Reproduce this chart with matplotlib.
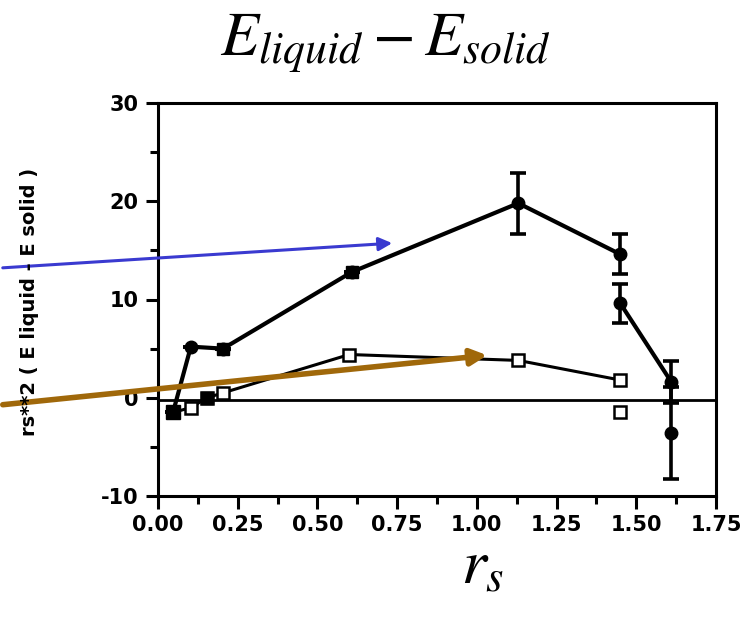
import matplotlib
matplotlib.use("Agg")
import matplotlib.pyplot as plt
from matplotlib.patches import FancyArrowPatch

plt.rcParams['mathtext.fontset'] = 'stix'
plt.rcParams['font.family'] = ['DejaVu Sans']

# ---- data ----
upper_x = [0.047, 0.103, 0.204, 0.608, 1.13, 1.45]
upper_y = [-1.5, 5.2, 5.0, 12.8, 19.8, 14.6]
upper_err = [0, 0, 0, 0, 3.1, 2.05]

branch_x = [1.45, 1.61]
branch_y = [9.6, 1.6]
branch_err = [2.0, 2.1]

iso_x = [1.61]
iso_y = [-3.6]
iso_err = [4.7]

lower_x = [0.047, 0.103, 0.154, 0.204, 0.60, 1.13, 1.45]
lower_y = [-1.5, -1.0, 0.0, 0.5, 4.4, 3.8, 1.8]

lower_iso_x = [1.45]
lower_iso_y = [-1.4]

x_ticks = [0.00, 0.25, 0.50, 0.75, 1.00, 1.25, 1.50, 1.75]
y_ticks = [-10, 0, 10, 20, 30]

W, H = 744, 625
fig = plt.figure(figsize=(W / 100, H / 100), dpi=100)
ax = fig.add_axes([158 / W, 1 - 496 / H, (716 - 158) / W, (496 - 103) / H])

ax.set_xlim(0, 1.75)
ax.set_ylim(-10, 30)

# zero line
ax.axhline(-0.2, color='black', lw=2.0, zorder=1)

# lower series
ax.plot(lower_x, lower_y, color='black', lw=2.2, zorder=2)
ax.plot(lower_x[1:], lower_y[1:], ls='none', marker='s', ms=8.5,
        mfc='white', mec='black', mew=1.8, zorder=4)
ax.plot(lower_x[2:3], lower_y[2:3], ls='none', marker='s', ms=8.5,
        mfc='black', mec='black', zorder=5)
ax.plot(lower_iso_x, lower_iso_y, ls='none', marker='s', ms=8.5,
        mfc='white', mec='black', mew=1.8, zorder=4)

# upper series
ax.errorbar(upper_x, upper_y, yerr=upper_err, color='black', lw=3.0,
            elinewidth=2.6, capsize=6, capthick=2.6, marker='o', ms=9,
            zorder=3)
ax.plot(upper_x[:1], upper_y[:1], ls='none', marker='s', ms=10,
        mfc='black', mec='black', zorder=6)
ax.plot(upper_x[2:4], upper_y[2:4], ls='none', marker='s', ms=9,
        mfc='black', mec='black', zorder=6)
ax.errorbar(branch_x, branch_y, yerr=branch_err, color='black', lw=3.0,
            elinewidth=2.6, capsize=6, capthick=2.6, marker='o', ms=9,
            zorder=3)
ax.errorbar(iso_x, iso_y, yerr=iso_err, color='black', ls='none',
            elinewidth=2.6, capsize=6, capthick=2.6, marker='o', ms=9,
            zorder=3)

# axes styling
for s in ax.spines.values():
    s.set_linewidth(2.2)
ax.set_xticks(x_ticks)
ax.set_xticklabels([f"{v:.2f}" for v in x_ticks])
ax.set_xticks([v + 0.125 for v in x_ticks[:-1]], minor=True)
ax.set_yticks(y_ticks)
ax.set_yticklabels([str(v) for v in y_ticks])
ax.set_yticks([-5, 5, 15, 25], minor=True)
ax.tick_params(axis='both', which='major', direction='out', length=9,
               width=2.2, labelsize=15, pad=5)
ax.tick_params(axis='both', which='minor', direction='out', length=6,
               width=2.2)
for lab in ax.get_xticklabels() + ax.get_yticklabels():
    lab.set_fontweight('bold')

# y label
fig.text(30 / W, 1 - 302 / H, 'rs**2 ( E liquid - E solid )', rotation=90,
         ha='center', va='center', fontsize=14, fontweight='bold')

# title and x label
fig.text(385 / W, 1 - 56 / H, r'$E_{liquid}-E_{solid}$', ha='center',
         va='baseline', fontsize=45)
fig.text(483 / W, 1 - 583 / H, r'$r_s$', ha='center', va='baseline',
         fontsize=46)

# annotation arrows
blue = FancyArrowPatch((0 / W, 1 - 268 / H), (395 / W, 1 - 243 / H),
                       transform=fig.transFigure, arrowstyle='-|>',
                       mutation_scale=20, color='#3a3ad0', lw=2.2)
brown = FancyArrowPatch((0 / W, 1 - 405 / H), (490 / W, 1 - 355 / H),
                        transform=fig.transFigure, arrowstyle='-|>',
                        mutation_scale=24, color='#a0680a', lw=4.0)
fig.patches.extend([blue, brown])

fig.savefig('out.png', dpi=100)
